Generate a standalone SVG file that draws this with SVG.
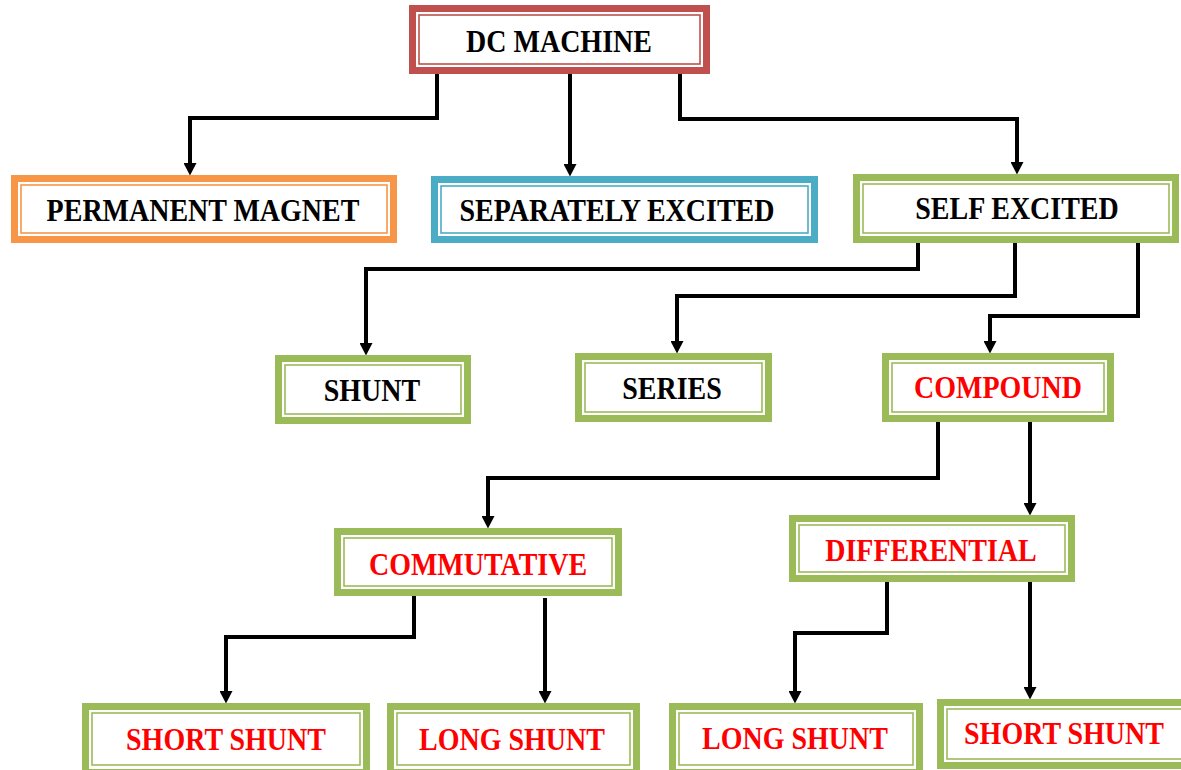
<svg xmlns="http://www.w3.org/2000/svg" width="1181" height="770" viewBox="0 0 1181 770">
<style>
.o{fill:#fff;stroke-width:7}
.i{fill:none;stroke-width:1.6}
.red{stroke:#C0504D}.org{stroke:#F79646}.blu{stroke:#4BACC6}.grn{stroke:#9BBB59}
text{font-family:"Liberation Serif","Times New Roman",serif;font-weight:bold;font-size:28px;text-anchor:middle}
.k{fill:#000}.r{fill:#FF0000}
.c{fill:none;stroke:#000;stroke-width:4;marker-end:url(#ah)}
</style>
<defs>
<marker id="ah" markerUnits="userSpaceOnUse" markerWidth="13" markerHeight="13" refX="0" refY="6.5" orient="auto">
<path d="M0,0 L12.5,6.5 L0,13 z" fill="#000"/>
</marker>
</defs>
<rect width="1181" height="770" fill="#fff"/>
<g id="connectors">
<path class="c" d="M437,73 V118 H190 V163"/>
<path class="c" d="M570,73 V164"/>
<path class="c" d="M680,73 V119 H1017 V162"/>
<path class="c" d="M918,243 V269 H366 V343"/>
<path class="c" d="M1015,243 V296 H677 V341"/>
<path class="c" d="M1138,243 V316 H990 V341"/>
<path class="c" d="M938,422 V478 H488 V516"/>
<path class="c" d="M1030,422 V503"/>
<path class="c" d="M414,596 V637 H226 V691"/>
<path class="c" d="M545,598 V691"/>
<path class="c" d="M887,582 V633 H795 V691"/>
<path class="c" d="M1030,582 V687"/>
</g>
<g id="dc-machine">
<rect class="o red" x="412.5" y="8.5" width="294" height="62"/>
<rect class="i red" x="419" y="15" width="281" height="49"/>
<text class="k" transform="translate(559,52) scale(1,1.15)">DC MACHINE</text>
</g>
<g id="permanent-magnet">
<rect class="o org" x="14.5" y="178.5" width="379" height="61"/>
<rect class="i org" x="21" y="185" width="366" height="48"/>
<text class="k" transform="translate(203,221) scale(1,1.15)">PERMANENT MAGNET</text>
</g>
<g id="separately-excited">
<rect class="o blu" x="434.5" y="179.5" width="380" height="60"/>
<rect class="i blu" x="441" y="186" width="367" height="47"/>
<text class="k" transform="translate(617,221) scale(1,1.15)" textLength="315" lengthAdjust="spacingAndGlyphs">SEPARATELY EXCITED</text>
</g>
<g id="self-excited">
<rect class="o grn" x="856.5" y="177.5" width="319" height="62"/>
<rect class="i grn" x="863" y="184" width="306" height="49"/>
<text class="k" transform="translate(1017,219) scale(1,1.15)">SELF EXCITED</text>
</g>
<g id="shunt">
<rect class="o grn" x="278.5" y="358.5" width="189" height="62"/>
<rect class="i grn" x="285" y="365" width="176" height="49"/>
<text class="k" transform="translate(372,401) scale(1,1.15)">SHUNT</text>
</g>
<g id="series">
<rect class="o grn" x="578.5" y="356.5" width="190" height="62"/>
<rect class="i grn" x="585" y="363" width="177" height="49"/>
<text class="k" transform="translate(672,399) scale(1,1.15)">SERIES</text>
</g>
<g id="compound">
<rect class="o grn" x="885.5" y="356.5" width="225" height="62"/>
<rect class="i grn" x="892" y="363" width="212" height="49"/>
<text class="r" transform="translate(998,398) scale(1,1.15)">COMPOUND</text>
</g>
<g id="commutative">
<rect class="o grn" x="337.5" y="531.5" width="281" height="61"/>
<rect class="i grn" x="344" y="538" width="268" height="48"/>
<text class="r" transform="translate(478,575) scale(1,1.15)">COMMUTATIVE</text>
</g>
<g id="differential">
<rect class="o grn" x="792.5" y="518.5" width="279" height="60"/>
<rect class="i grn" x="799" y="525" width="266" height="47"/>
<text class="r" transform="translate(931,561) scale(1,1.15)">DIFFERENTIAL</text>
</g>
<g id="short-shunt-1">
<rect class="o grn" x="85.5" y="706.5" width="281" height="66"/>
<rect class="i grn" x="92" y="713" width="268" height="52"/>
<text class="r" transform="translate(226,750) scale(1,1.15)">SHORT SHUNT</text>
</g>
<g id="long-shunt-1">
<rect class="o grn" x="390.5" y="706.5" width="246" height="66"/>
<rect class="i grn" x="397" y="713" width="233" height="52"/>
<text class="r" transform="translate(512,750) scale(1,1.15)">LONG SHUNT</text>
</g>
<g id="long-shunt-2">
<rect class="o grn" x="672.5" y="706.5" width="247" height="66"/>
<rect class="i grn" x="679" y="713" width="234" height="52"/>
<text class="r" transform="translate(795,749) scale(1,1.15)">LONG SHUNT</text>
</g>
<g id="short-shunt-2">
<rect class="o grn" x="940.5" y="702.5" width="246" height="63"/>
<rect class="i grn" x="947" y="709" width="240" height="50"/>
<text class="r" transform="translate(1064,744) scale(1,1.15)">SHORT SHUNT</text>
</g>
</svg>
